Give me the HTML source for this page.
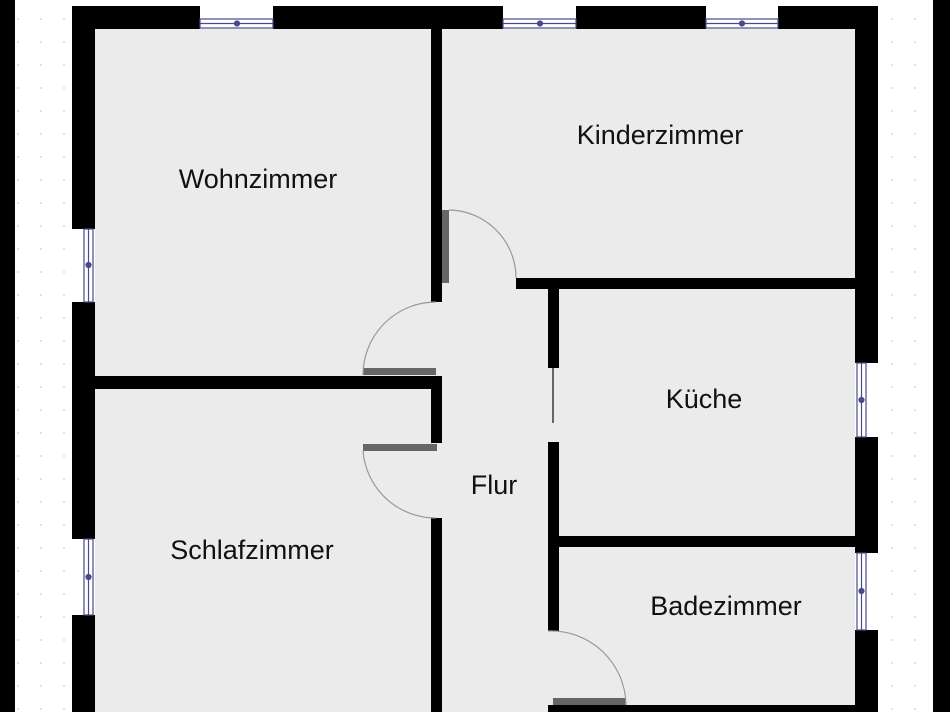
<!DOCTYPE html>
<html><head><meta charset="utf-8"><style>
html,body{margin:0;padding:0;background:#fff;}
svg{display:block;}
text{font-family:"Liberation Sans",sans-serif;font-size:27px;fill:#111;}
</style></head><body>
<svg width="950" height="712" viewBox="0 0 950 712" xmlns="http://www.w3.org/2000/svg">
<defs>
<pattern id="dots" x="0" y="0" width="23" height="23" patternUnits="userSpaceOnUse">
<circle cx="18" cy="19" r="0.9" fill="#ccc"/>
</pattern>
</defs>
<rect width="950" height="712" fill="#fff"/>
<rect x="15" y="0" width="57" height="712" fill="url(#dots)"/>
<rect x="878" y="0" width="55" height="712" fill="url(#dots)"/>
<rect x="0" y="0" width="15" height="712" fill="#000"/>
<rect x="933" y="0" width="17" height="712" fill="#000"/>
<rect x="95" y="29" width="760" height="683" fill="#ebebeb"/>
<g fill="#000">
<rect x="72" y="6" width="128" height="23"/>
<rect x="273" y="6" width="230" height="23"/>
<rect x="576" y="6" width="130" height="23"/>
<rect x="778" y="6" width="100" height="23"/>
<rect x="72" y="6" width="23" height="223"/>
<rect x="72" y="302" width="23" height="237"/>
<rect x="72" y="615" width="23" height="97"/>
<rect x="855" y="6" width="23" height="357"/>
<rect x="855" y="437" width="23" height="116"/>
<rect x="855" y="630" width="23" height="82"/>
<rect x="431" y="29" width="11" height="273"/>
<rect x="516" y="278" width="339" height="11"/>
<rect x="95" y="376" width="347" height="13"/>
<rect x="431" y="376" width="11" height="67"/>
<rect x="431" y="518" width="11" height="194"/>
<rect x="548" y="289" width="11" height="79"/>
<rect x="548" y="442" width="11" height="189"/>
<rect x="559" y="536" width="296" height="11"/>
<rect x="548" y="705" width="307" height="7"/>
</g>
<g stroke="#4a4a8a" stroke-width="1.2" fill="#fff">
<rect x="200" y="19" width="73" height="9"/>
<line x1="200" y1="23.5" x2="273" y2="23.5"/>
<circle cx="237" cy="23.5" r="2.5" fill="#4a4a8a"/>
<rect x="503" y="19" width="73" height="9"/>
<line x1="503" y1="23.5" x2="576" y2="23.5"/>
<circle cx="540" cy="23.5" r="2.5" fill="#4a4a8a"/>
<rect x="706" y="19" width="72" height="9"/>
<line x1="706" y1="23.5" x2="778" y2="23.5"/>
<circle cx="742" cy="23.5" r="2.5" fill="#4a4a8a"/>
<rect x="84" y="229" width="9" height="73"/>
<line x1="88.5" y1="229" x2="88.5" y2="302"/>
<circle cx="88.5" cy="265" r="2.5" fill="#4a4a8a"/>
<rect x="84" y="539" width="9" height="76"/>
<line x1="88.5" y1="539" x2="88.5" y2="615"/>
<circle cx="88.5" cy="577" r="2.5" fill="#4a4a8a"/>
<rect x="857" y="363" width="9" height="74"/>
<line x1="861.5" y1="363" x2="861.5" y2="437"/>
<circle cx="861.5" cy="400" r="2.5" fill="#4a4a8a"/>
<rect x="857" y="553" width="9" height="77"/>
<line x1="861.5" y1="553" x2="861.5" y2="630"/>
<circle cx="861.5" cy="591" r="2.5" fill="#4a4a8a"/>
</g>
<g fill="#666">
<rect x="442" y="210" width="7" height="73"/>
<rect x="363" y="368" width="73" height="7"/>
<rect x="363" y="444" width="74" height="7"/>
<rect x="553" y="698" width="73" height="7"/>
<rect x="552" y="368" width="2" height="55"/>
</g>
<g fill="none" stroke="#999" stroke-width="1.2">
<path d="M449 210 A68 68 0 0 1 516 278"/>
<path d="M436 302 A73 73 0 0 0 363 375"/>
<path d="M363 451 A73 73 0 0 0 436 518"/>
<path d="M548 631 A75 75 0 0 1 626 705"/>
</g>
<text x="258" y="188" text-anchor="middle">Wohnzimmer</text>
<text x="660" y="144" text-anchor="middle">Kinderzimmer</text>
<text x="704" y="408" text-anchor="middle">Küche</text>
<text x="494" y="494" text-anchor="middle">Flur</text>
<text x="252" y="559" text-anchor="middle">Schlafzimmer</text>
<text x="726" y="615" text-anchor="middle">Badezimmer</text>
</svg>
</body></html>
